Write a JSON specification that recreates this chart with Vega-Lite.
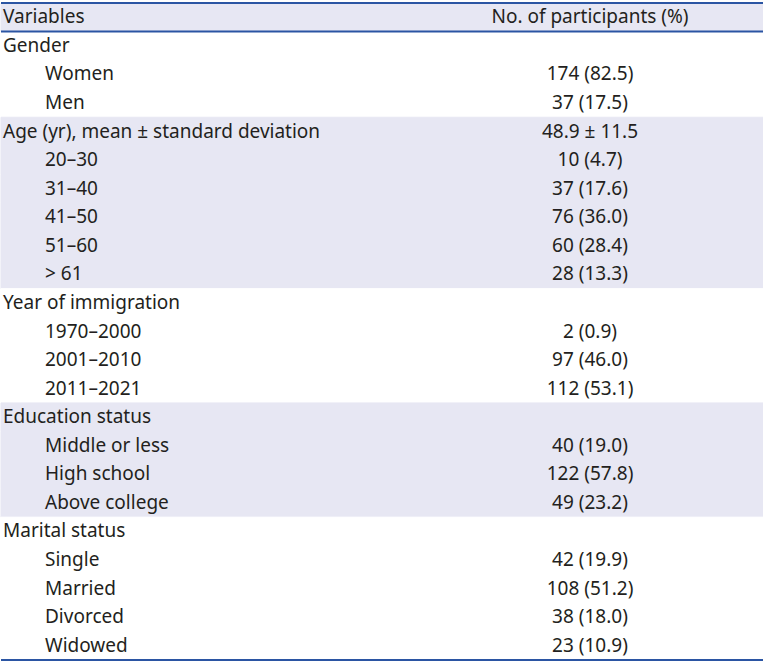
{
  "$schema": "https://vega.github.io/schema/vega-lite/v6.json",
  "width": 763,
  "height": 657,
  "padding": {"top": 2, "bottom": 2, "left": 0, "right": 0},
  "background": "white",
  "view": {"stroke": null},
  "config": {"text": {"font": "Noto Sans", "fontSize": 19, "color": "#231f20"}},
  "data": {"values": [
    {"row": 0, "section": "Header", "level": "category", "label": "Variables", "value": "No. of participants (%)"},
    {"row": 1, "section": "Gender", "level": "category", "label": "Gender", "value": ""},
    {"row": 2, "section": "Gender", "level": "item", "label": "Women", "value": "174 (82.5)"},
    {"row": 3, "section": "Gender", "level": "item", "label": "Men", "value": "37 (17.5)"},
    {"row": 4, "section": "Age", "level": "category", "label": "Age (yr), mean ± standard deviation", "value": "48.9 ± 11.5"},
    {"row": 5, "section": "Age", "level": "item", "label": "20–30", "value": "10 (4.7)"},
    {"row": 6, "section": "Age", "level": "item", "label": "31–40", "value": "37 (17.6)"},
    {"row": 7, "section": "Age", "level": "item", "label": "41–50", "value": "76 (36.0)"},
    {"row": 8, "section": "Age", "level": "item", "label": "51–60", "value": "60 (28.4)"},
    {"row": 9, "section": "Age", "level": "item", "label": "> 61", "value": "28 (13.3)"},
    {"row": 10, "section": "Year", "level": "category", "label": "Year of immigration", "value": ""},
    {"row": 11, "section": "Year", "level": "item", "label": "1970–2000", "value": "2 (0.9)"},
    {"row": 12, "section": "Year", "level": "item", "label": "2001–2010", "value": "97 (46.0)"},
    {"row": 13, "section": "Year", "level": "item", "label": "2011–2021", "value": "112 (53.1)"},
    {"row": 14, "section": "Education", "level": "category", "label": "Education status", "value": ""},
    {"row": 15, "section": "Education", "level": "item", "label": "Middle or less", "value": "40 (19.0)"},
    {"row": 16, "section": "Education", "level": "item", "label": "High school", "value": "122 (57.8)"},
    {"row": 17, "section": "Education", "level": "item", "label": "Above college", "value": "49 (23.2)"},
    {"row": 18, "section": "Marital", "level": "category", "label": "Marital status", "value": ""},
    {"row": 19, "section": "Marital", "level": "item", "label": "Single", "value": "42 (19.9)"},
    {"row": 20, "section": "Marital", "level": "item", "label": "Married", "value": "108 (51.2)"},
    {"row": 21, "section": "Marital", "level": "item", "label": "Divorced", "value": "38 (18.0)"},
    {"row": 22, "section": "Marital", "level": "item", "label": "Widowed", "value": "23 (10.9)"}
  ]},
  "encoding": {
    "y": {"field": "row", "type": "ordinal", "axis": null, "scale": {"paddingInner": 0, "paddingOuter": 0}}
  },
  "resolve": {"scale": {"x": "independent"}},
  "layer": [
    {
      "mark": {"type": "rect", "strokeWidth": 1},
      "encoding": {
        "fill": {"field": "section", "type": "nominal", "legend": null,
          "scale": {"domain": ["Header", "Gender", "Age", "Year", "Education", "Marital"],
                    "range": ["#e7e7f3", "#ffffff", "#e7e7f3", "#ffffff", "#e7e7f3", "#ffffff"]}},
        "stroke": {"field": "section", "type": "nominal", "legend": null,
          "scale": {"domain": ["Header", "Gender", "Age", "Year", "Education", "Marital"],
                    "range": ["#e7e7f3", "#ffffff", "#e7e7f3", "#ffffff", "#e7e7f3", "#ffffff"]}}
      }
    },
    {
      "mark": {"type": "text", "align": "left", "baseline": "middle"},
      "encoding": {
        "text": {"field": "label"},
        "x": {"field": "level", "type": "nominal", "axis": null,
          "scale": {"type": "point", "domain": ["category", "item"], "range": [2, 44], "padding": 0}}
      }
    },
    {
      "mark": {"type": "text", "align": "center", "baseline": "middle"},
      "encoding": {
        "text": {"field": "value"},
        "x": {"datum": "value", "type": "nominal", "axis": null,
          "scale": {"type": "point", "domain": ["value"], "range": [589, 589], "padding": 0}}
      }
    },
    {
      "transform": [{"filter": "datum.row == 0"}],
      "mark": {"type": "rule", "color": "#2b55a3", "strokeWidth": 2},
      "encoding": {"y": {"field": "row", "type": "ordinal", "bandPosition": 0}}
    },
    {
      "transform": [{"filter": "datum.row == 0 || datum.row == 22"}],
      "mark": {"type": "rule", "color": "#2b55a3", "strokeWidth": 2},
      "encoding": {"y": {"field": "row", "type": "ordinal", "bandPosition": 1}}
    }
  ]
}
